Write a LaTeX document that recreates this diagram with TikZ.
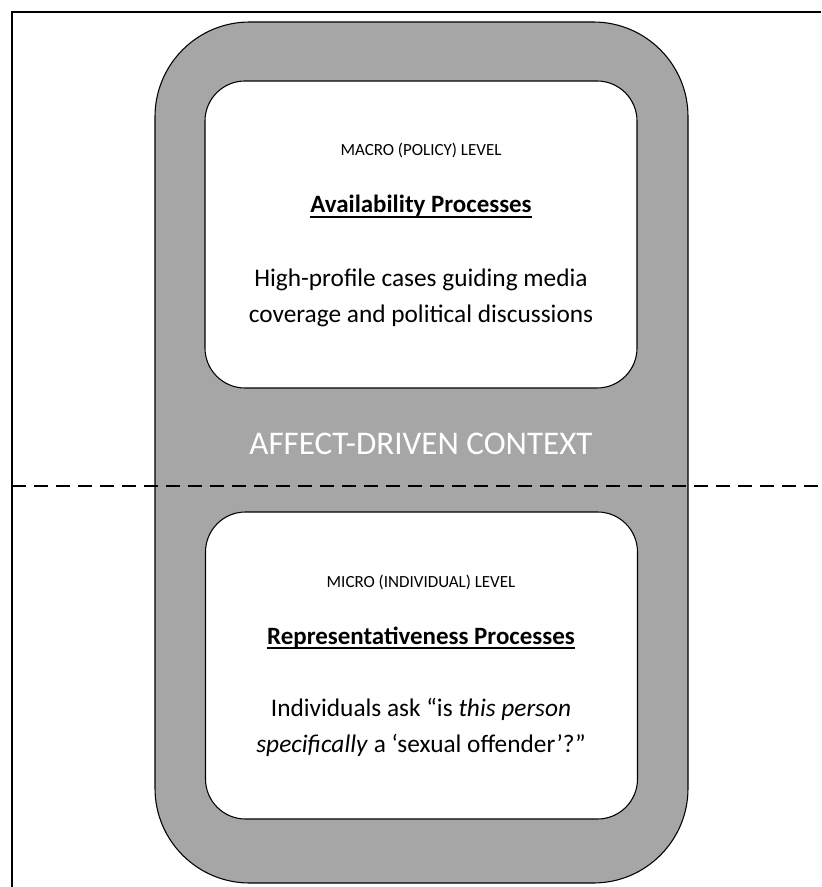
\documentclass[tikz,border=0pt]{standalone}
\usepackage{fontspec}
\setmainfont{Carlito}
\usepackage{tikz}
\definecolor{ctxgray}{RGB}{166,166,166}

\begin{document}
\begin{tikzpicture}[x=0.75pt,y=0.75pt,yscale=-1,xscale=1,
    ctxshape/.style={draw=black, line width=0.8pt, fill=ctxgray, rounded corners=71pt,
        minimum width=399.75pt, minimum height=645.75pt, inner sep=0pt, outer sep=0pt},
    levelbox/.style={draw=black, line width=0.8pt, fill=white, rounded corners=30pt,
        minimum width=324pt, minimum height=230.25pt, inner sep=0pt, outer sep=0pt},
    leveltxt/.style={anchor=base, inner sep=0pt, font=\fontsize{12.75}{15}\selectfont},
    headtxt/.style={anchor=base, inner sep=0pt, font=\bfseries\fontsize{18.7}{22}\selectfont},
    bodytxt/.style={anchor=base, inner sep=0pt, align=center, font=\fontsize{19}{27}\selectfont}]
    \useasboundingbox (0,0) rectangle (821,887);

    %Frame (top and left edges only)
    \draw [line width=1.5pt] (12,887) -- (12,12) -- (821,12) ;

    %Shape: outer context
    \node [ctxshape] (context) at (421.5,452.5) {};
    %Shape: macro box
    \node [levelbox] (macro) at (421,234.5) {};
    %Shape: micro box
    \node [levelbox] (micro) at (421.5,665.5) {};

    %Dashed divider
    \coordinate (divL) at (12,486);
    \coordinate (divR) at (821,486);
    \draw [line width=1.5pt, dash pattern=on 10.5pt off 6pt] (divL) -- (divR) ;

    % Text Node
    \node [leveltxt] (macrolvl) at (421,156) {MACRO (POLICY) LEVEL};
    % Text Node
    \node [headtxt] (avail) at (421,213) {Availability Processes};
    \draw [line width=0.9pt] ([yshift=3pt]avail.base west) -- ([yshift=3pt]avail.base east) ;
    % Text Node
    \node [bodytxt] (availtxt) at (421,323) {High-profile cases guiding media\\coverage and political discussions};

    % Text Node
    \node [anchor=base, inner sep=0pt, text=white, font=\fontsize{24.8}{30}\selectfont] (ctxlabel) at (421,454) {AFFECT-DRIVEN CONTEXT};

    % Text Node
    \node [leveltxt] (microlvl) at (421,587) {MICRO (INDIVIDUAL) LEVEL};
    % Text Node
    \node [headtxt] (repr) at (421,644) {Representativeness Processes};
    \draw [line width=0.9pt] ([yshift=3pt]repr.base west) -- ([yshift=3pt]repr.base east) ;
    % Text Node
    \node [bodytxt] (reprtxt) at (421,752) {Individuals ask “is \textit{this person}\\\textit{specifically} a ‘sexual offender’?”};

\end{tikzpicture}
\end{document}
